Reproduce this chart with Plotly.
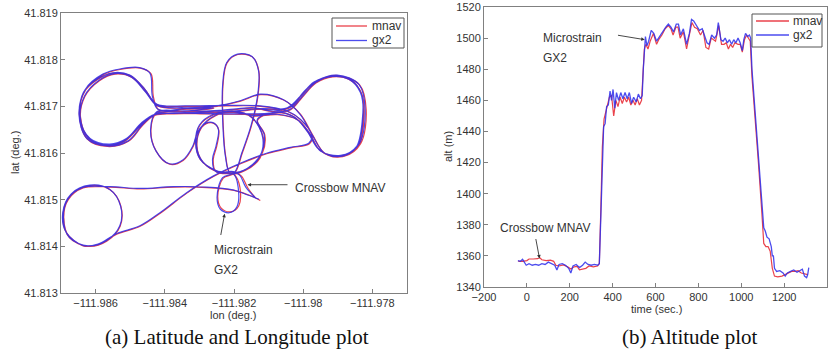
import plotly.graph_objects as go

# ---------------- data: latitude / longitude track ----------------
MNAV_TRACK = [
    # start, into centre
    (-111.98137, 41.81503), (-111.98160, 41.81525), (-111.98179, 41.81551), (-111.98200, 41.81559),
    # centre circle lap 1
    (-111.98244, 41.81559), (-111.98289, 41.81580), (-111.98307, 41.81614), (-111.98294, 41.81654),
    (-111.98253, 41.81680), (-111.98200, 41.81689), (-111.98147, 41.81675), (-111.98115, 41.81632),
    (-111.98125, 41.81589), (-111.98166, 41.81563), (-111.98210, 41.81556),
    # tall loop (north)
    (-111.98224, 41.81593), (-111.98231, 41.81657), (-111.98232, 41.81743), (-111.98220, 41.81793),
    (-111.98189, 41.81811), (-111.98147, 41.81806), (-111.98128, 41.81775), (-111.98131, 41.81721),
    (-111.98150, 41.81657), (-111.98176, 41.81600), (-111.98198, 41.81557),
    # small loop (south)
    (-111.98231, 41.81546), (-111.98247, 41.81507), (-111.98237, 41.81482), (-111.98210, 41.81474),
    (-111.98186, 41.81487), (-111.98183, 41.81527), (-111.98200, 41.81554),
    # centre circle lap 2
    (-111.98249, 41.81561), (-111.98297, 41.81586), (-111.98310, 41.81621), (-111.98299, 41.81659),
    (-111.98258, 41.81682), (-111.98200, 41.81687), (-111.98142, 41.81679),
    # east loop lap 1
    (-111.98074, 41.81682), (-111.98016, 41.81671), (-111.97982, 41.81643), (-111.97949, 41.81604),
    (-111.97890, 41.81594), (-111.97842, 41.81614), (-111.97824, 41.81679), (-111.97832, 41.81729),
    (-111.97866, 41.81757), (-111.97915, 41.81763), (-111.97963, 41.81750), (-111.98002, 41.81720),
    (-111.98036, 41.81693), (-111.98103, 41.81684), (-111.98200, 41.81683), (-111.98297, 41.81684),
    # west loop lap 1
    (-111.98374, 41.81684), (-111.98428, 41.81682), (-111.98466, 41.81664), (-111.98510, 41.81630),
    (-111.98558, 41.81617), (-111.98615, 41.81629), (-111.98643, 41.81671), (-111.98631, 41.81721),
    (-111.98589, 41.81755), (-111.98544, 41.81769), (-111.98495, 41.81762), (-111.98454, 41.81730),
    (-111.98421, 41.81701), (-111.98345, 41.81696), (-111.98249, 41.81700),
    # east loop lap 2
    (-111.98181, 41.81711), (-111.98123, 41.81725), (-111.98055, 41.81713), (-111.98007, 41.81682),
    (-111.97973, 41.81639), (-111.97937, 41.81599), (-111.97881, 41.81593), (-111.97834, 41.81620),
    (-111.97818, 41.81693), (-111.97837, 41.81746), (-111.97900, 41.81766), (-111.97960, 41.81754),
    (-111.97999, 41.81729), (-111.98031, 41.81700), (-111.98084, 41.81689), (-111.98142, 41.81696),
    (-111.98200, 41.81693), (-111.98278, 41.81689),
    # west loop lap 2 (outer)
    (-111.98355, 41.81689), (-111.98423, 41.81684), (-111.98462, 41.81661), (-111.98505, 41.81625),
    (-111.98566, 41.81614), (-111.98624, 41.81630), (-111.98647, 41.81682), (-111.98628, 41.81736),
    (-111.98578, 41.81768), (-111.98529, 41.81779), (-111.98471, 41.81782), (-111.98440, 41.81770),
    (-111.98433, 41.81721), (-111.98418, 41.81693), (-111.98336, 41.81694), (-111.98258, 41.81696),
    # droplet and inner loop
    (-111.98336, 41.81689), (-111.98423, 41.81687), (-111.98440, 41.81650), (-111.98425, 41.81604),
    (-111.98386, 41.81576), (-111.98347, 41.81584), (-111.98318, 41.81614), (-111.98305, 41.81643),
    (-111.98280, 41.81663), (-111.98257, 41.81663), (-111.98244, 41.81649), (-111.98250, 41.81614),
    (-111.98260, 41.81586), (-111.98253, 41.81561), (-111.98210, 41.81556),
    # centre circle lap 3 + east loop lap 3
    (-111.98161, 41.81566), (-111.98118, 41.81600), (-111.98111, 41.81639), (-111.98132, 41.81670),
    (-111.98084, 41.81686), (-111.98026, 41.81677), (-111.97987, 41.81646), (-111.97953, 41.81607),
    (-111.97900, 41.81591), (-111.97847, 41.81609), (-111.97827, 41.81671), (-111.97830, 41.81725),
    (-111.97863, 41.81757), (-111.97915, 41.81764), (-111.97968, 41.81751), (-111.98007, 41.81721),
    (-111.98045, 41.81696), (-111.98123, 41.81694), (-111.98200, 41.81689), (-111.98297, 41.81686),
    (-111.98394, 41.81684),
    # west loop lap 3
    (-111.98433, 41.81680), (-111.98471, 41.81657), (-111.98520, 41.81623), (-111.98568, 41.81616),
    (-111.98621, 41.81632), (-111.98644, 41.81679), (-111.98634, 41.81729), (-111.98595, 41.81757),
    (-111.98549, 41.81771), (-111.98500, 41.81766), (-111.98457, 41.81736), (-111.98423, 41.81704),
    (-111.98336, 41.81700), (-111.98220, 41.81701), (-111.98123, 41.81700), (-111.98045, 41.81689),
    (-111.98007, 41.81671),
    # long leg to the south-west
    (-111.97973, 41.81636), (-111.97982, 41.81620), (-111.98036, 41.81611), (-111.98103, 41.81599),
    (-111.98181, 41.81577), (-111.98258, 41.81550), (-111.98336, 41.81514), (-111.98413, 41.81471),
    (-111.98471, 41.81443), (-111.98539, 41.81426), (-111.98592, 41.81404),
    # south-west circle
    (-111.98636, 41.81401), (-111.98684, 41.81429), (-111.98694, 41.81471), (-111.98670, 41.81511),
    (-111.98616, 41.81530), (-111.98558, 41.81521), (-111.98527, 41.81486), (-111.98529, 41.81443),
    (-111.98568, 41.81411), (-111.98621, 41.81400), (-111.98675, 41.81418), (-111.98692, 41.81461),
    (-111.98679, 41.81500), (-111.98636, 41.81525),
    # return leg
    (-111.98558, 41.81527), (-111.98471, 41.81523), (-111.98374, 41.81527), (-111.98278, 41.81526),
    (-111.98200, 41.81520), (-111.98150, 41.81508), (-111.98124, 41.81498),
]

GX2_TRACK = [
    (-111.98135, 41.81502), (-111.98166, 41.81527), (-111.98183, 41.81552), (-111.98202, 41.81560),
    (-111.98245, 41.81560), (-111.98290, 41.81581), (-111.98308, 41.81615), (-111.98295, 41.81655),
    (-111.98254, 41.81681), (-111.98200, 41.81690), (-111.98148, 41.81676), (-111.98117, 41.81633),
    (-111.98127, 41.81590), (-111.98167, 41.81564), (-111.98211, 41.81557),
    (-111.98225, 41.81594), (-111.98232, 41.81658), (-111.98233, 41.81744), (-111.98221, 41.81794),
    (-111.98190, 41.81812), (-111.98148, 41.81807), (-111.98129, 41.81776), (-111.98132, 41.81722),
    (-111.98151, 41.81658), (-111.98177, 41.81601), (-111.98199, 41.81558),
    (-111.98233, 41.81547), (-111.98249, 41.81505), (-111.98240, 41.81480), (-111.98214, 41.81472),
    (-111.98192, 41.81484), (-111.98188, 41.81527), (-111.98201, 41.81555),
    (-111.98250, 41.81562), (-111.98298, 41.81587), (-111.98311, 41.81622), (-111.98300, 41.81660),
    (-111.98259, 41.81683), (-111.98201, 41.81688), (-111.98143, 41.81680),
    (-111.98075, 41.81683), (-111.98018, 41.81672), (-111.97984, 41.81644), (-111.97951, 41.81605),
    (-111.97892, 41.81595), (-111.97845, 41.81615), (-111.97827, 41.81680), (-111.97835, 41.81730),
    (-111.97868, 41.81758), (-111.97916, 41.81764), (-111.97964, 41.81751), (-111.98003, 41.81721),
    (-111.98037, 41.81694), (-111.98104, 41.81685), (-111.98201, 41.81684), (-111.98298, 41.81685),
    (-111.98375, 41.81685), (-111.98429, 41.81683), (-111.98467, 41.81665), (-111.98511, 41.81631),
    (-111.98559, 41.81619), (-111.98616, 41.81631), (-111.98644, 41.81672), (-111.98632, 41.81722),
    (-111.98590, 41.81756), (-111.98545, 41.81770), (-111.98497, 41.81763), (-111.98456, 41.81731),
    (-111.98423, 41.81702), (-111.98346, 41.81697), (-111.98250, 41.81701),
    (-111.98182, 41.81712), (-111.98124, 41.81726), (-111.98057, 41.81714), (-111.98009, 41.81683),
    (-111.97975, 41.81640), (-111.97939, 41.81600), (-111.97883, 41.81594), (-111.97837, 41.81621),
    (-111.97821, 41.81694), (-111.97839, 41.81747), (-111.97901, 41.81767), (-111.97961, 41.81755),
    (-111.98000, 41.81730), (-111.98032, 41.81701), (-111.98085, 41.81690), (-111.98143, 41.81697),
    (-111.98201, 41.81694), (-111.98279, 41.81690),
    (-111.98356, 41.81690), (-111.98424, 41.81685), (-111.98463, 41.81662), (-111.98506, 41.81626),
    (-111.98567, 41.81615), (-111.98625, 41.81631), (-111.98648, 41.81683), (-111.98629, 41.81737),
    (-111.98579, 41.81769), (-111.98530, 41.81780), (-111.98473, 41.81783), (-111.98443, 41.81771),
    (-111.98436, 41.81722), (-111.98420, 41.81694), (-111.98337, 41.81695), (-111.98259, 41.81697),
    (-111.98337, 41.81690), (-111.98424, 41.81688), (-111.98441, 41.81651), (-111.98426, 41.81605),
    (-111.98387, 41.81577), (-111.98348, 41.81585), (-111.98319, 41.81615), (-111.98306, 41.81644),
    (-111.98281, 41.81664), (-111.98258, 41.81664), (-111.98245, 41.81650), (-111.98252, 41.81615),
    (-111.98262, 41.81587), (-111.98255, 41.81562), (-111.98211, 41.81557),
    (-111.98162, 41.81567), (-111.98120, 41.81601), (-111.98113, 41.81640), (-111.98133, 41.81671),
    (-111.98085, 41.81687), (-111.98028, 41.81678), (-111.97989, 41.81647), (-111.97955, 41.81608),
    (-111.97902, 41.81592), (-111.97849, 41.81610), (-111.97829, 41.81672), (-111.97832, 41.81726),
    (-111.97864, 41.81758), (-111.97916, 41.81765), (-111.97969, 41.81752), (-111.98008, 41.81722),
    (-111.98046, 41.81697), (-111.98124, 41.81695), (-111.98201, 41.81690), (-111.98298, 41.81687),
    (-111.98395, 41.81685),
    (-111.98434, 41.81681), (-111.98472, 41.81658), (-111.98521, 41.81624), (-111.98569, 41.81617),
    (-111.98622, 41.81633), (-111.98645, 41.81680), (-111.98635, 41.81730), (-111.98596, 41.81758),
    (-111.98550, 41.81772), (-111.98501, 41.81767), (-111.98458, 41.81737), (-111.98424, 41.81705),
    (-111.98337, 41.81701), (-111.98221, 41.81702), (-111.98124, 41.81701), (-111.98046, 41.81690),
    (-111.98008, 41.81672),
    (-111.97975, 41.81637), (-111.97984, 41.81621), (-111.98037, 41.81612), (-111.98104, 41.81600),
    (-111.98182, 41.81578), (-111.98259, 41.81551), (-111.98337, 41.81515), (-111.98414, 41.81472),
    (-111.98472, 41.81444), (-111.98540, 41.81427), (-111.98593, 41.81405),
    (-111.98637, 41.81402), (-111.98685, 41.81430), (-111.98695, 41.81472), (-111.98671, 41.81512),
    (-111.98617, 41.81531), (-111.98559, 41.81522), (-111.98528, 41.81487), (-111.98530, 41.81444),
    (-111.98569, 41.81412), (-111.98622, 41.81401), (-111.98676, 41.81419), (-111.98693, 41.81462),
    (-111.98680, 41.81501), (-111.98637, 41.81526),
    (-111.98559, 41.81528), (-111.98472, 41.81524), (-111.98375, 41.81528), (-111.98279, 41.81527),
    (-111.98203, 41.81521), (-111.98160, 41.81510), (-111.98128, 41.81501),
]

# ---------------- data: altitude vs time ----------------
MNAV_T = [-40, -20, 0, 10, 30, 50, 60, 70, 90, 110, 125, 135, 150, 170, 190, 205, 220, 235,
          245, 260, 275, 290, 310, 330, 338, 345, 352, 360, 372, 385, 395, 405, 415, 425,
          435, 445, 455, 465, 475, 485, 495, 505, 515, 525, 535, 540, 548, 555, 565, 575,
          590, 605, 615, 630, 645, 660, 672, 682, 695, 705, 715, 730, 745, 758, 770, 782,
          795, 810, 822, 835, 848, 860, 870, 880, 895, 908, 920, 930, 940, 950, 960, 970,
          985, 995, 1005, 1015, 1025, 1035, 1042, 1050, 1065, 1080, 1095, 1105, 1115, 1125,
          1135, 1145, 1155, 1170, 1190, 1205, 1220, 1235, 1250, 1265, 1280, 1295, 1310]
MNAV_ALT = [1356.5, 1356.5, 1357.0, 1358.0, 1358.0, 1358.2, 1358.8, 1357.5, 1357.0, 1357.3,
            1356.5, 1354.0, 1353.5, 1354.2, 1353.0, 1351.5, 1353.0, 1353.2, 1351.0, 1351.5,
            1352.0, 1353.5, 1353.0, 1353.5, 1355, 1390, 1430, 1448, 1455, 1462, 1463, 1450,
            1460, 1456, 1462, 1458, 1462, 1459, 1462, 1457, 1460, 1457, 1461, 1457, 1460,
            1475, 1493, 1496, 1493, 1498, 1503, 1496, 1499, 1502, 1506, 1508, 1506, 1502,
            1507, 1507, 1500, 1504, 1493, 1502, 1510, 1507, 1506, 1502, 1505, 1494, 1493,
            1500, 1499, 1498, 1508, 1496, 1496, 1497, 1493, 1496, 1494, 1497, 1496, 1496,
            1491, 1499, 1502, 1500, 1498, 1475, 1450, 1420, 1390, 1368, 1366, 1366, 1363,
            1352, 1347, 1346.5, 1347, 1348, 1349, 1350, 1350, 1350.5, 1349, 1348.5, 1348]

GX2_T = [-42, -30, -20, -10, -3, 10, 25, 40, 55, 70, 85, 100, 115, 130, 140, 150, 165, 180,
         195, 205, 215, 230, 245, 260, 272, 285, 300, 315, 330, 338, 345, 352, 358, 365, 372,
         380, 388, 395, 402, 410, 418, 428, 438, 448, 458, 468, 478, 488, 498, 510, 520, 530,
         538, 543, 548, 553, 560, 568, 580, 592, 605, 618, 632, 648, 660, 672, 684, 697, 707,
         717, 730, 745, 758, 768, 778, 790, 805, 818, 832, 840, 850, 862, 875, 885, 893, 905,
         915, 925, 935, 945, 955, 965, 975, 985, 995, 1005, 1012, 1020, 1030, 1038, 1044,
         1050, 1065, 1080, 1095, 1105, 1112, 1120, 1130, 1140, 1145, 1150, 1155, 1165, 1180,
         1195, 1205, 1215, 1230, 1245, 1260, 1275, 1285, 1295, 1305, 1310, 1315]
GX2_ALT = [1357, 1356.5, 1357.8, 1355.5, 1354, 1355, 1354, 1354.5, 1354, 1355, 1354.5, 1356,
           1355, 1354, 1351, 1354.5, 1355, 1354, 1352, 1349, 1353.5, 1354.5, 1352.5, 1354,
           1356, 1354.5, 1354, 1354.5, 1354, 1355, 1385, 1425, 1443, 1445, 1456, 1457, 1466,
           1460, 1467, 1455, 1465, 1460, 1465, 1461, 1465, 1461, 1465, 1458, 1462, 1459, 1464,
           1461, 1463, 1480, 1496, 1501, 1495, 1498, 1505, 1503, 1498, 1501, 1504, 1507, 1509,
           1507, 1504, 1509, 1509, 1502, 1506, 1496, 1503, 1512, 1511, 1508, 1505, 1506, 1501,
           1497, 1496, 1502, 1500, 1502, 1510, 1499, 1498, 1500, 1497, 1499, 1496, 1499, 1497,
           1500, 1497, 1492, 1499, 1503, 1501, 1502, 1500, 1480, 1452, 1422, 1393, 1378, 1376,
           1372, 1371, 1366, 1360, 1360, 1352, 1350, 1350.5, 1349, 1347, 1349, 1350, 1351,
           1349.5, 1351, 1351.5, 1347, 1346, 1348, 1352.5]

LON_TICKS = [-111.986, -111.984, -111.982, -111.980, -111.978]
LON_TICK_TEXT = ["\u2212111.986", "\u2212111.984", "\u2212111.982", "\u2212111.98", "\u2212111.978"]
SERIES_NAMES = ["mnav", "gx2"]

# ---------------- figure ----------------
W, H = 839, 353
RED = "rgba(232,45,55,0.9)"
BLUE = "rgba(45,45,235,0.85)"
SANS = "Liberation Sans, Arial, sans-serif"
SERIF = "Liberation Serif, Times New Roman, serif"
AX = "#808080"


def px(x):
    return x / W


def py(y):
    return 1 - y / H


fig = go.Figure()
fig.add_trace(go.Scatter(x=[p[0] for p in MNAV_TRACK], y=[p[1] for p in MNAV_TRACK], mode="lines",
                         name=SERIES_NAMES[0], line=dict(color=RED, width=1.2, shape="spline", smoothing=1.0),
                         xaxis="x", yaxis="y"))
fig.add_trace(go.Scatter(x=[p[0] for p in GX2_TRACK], y=[p[1] for p in GX2_TRACK], mode="lines",
                         name=SERIES_NAMES[1], line=dict(color=BLUE, width=1.2, shape="spline", smoothing=1.0),
                         xaxis="x", yaxis="y"))
fig.add_trace(go.Scatter(x=MNAV_T, y=MNAV_ALT, mode="lines", name=SERIES_NAMES[0],
                         line=dict(color=RED, width=1.2), xaxis="x2", yaxis="y2"))
fig.add_trace(go.Scatter(x=GX2_T, y=GX2_ALT, mode="lines", name=SERIES_NAMES[1],
                         line=dict(color=BLUE, width=1.3), xaxis="x2", yaxis="y2"))

axis_common = dict(showline=True, mirror=True, linecolor=AX, linewidth=1, ticks="inside",
                   ticklen=4, tickcolor=AX, showgrid=False, zeroline=False, automargin=False,
                   tickfont=dict(family=SANS, size=11, color="#333"))

fig.update_layout(
    width=W, height=H, margin=dict(l=0, r=0, t=0, b=0, autoexpand=False),
    paper_bgcolor="white", plot_bgcolor="white", showlegend=False,
    xaxis=dict(domain=[px(61), px(407)], anchor="y", range=[-111.987, -111.977],
               tickvals=LON_TICKS, ticktext=LON_TICK_TEXT, **axis_common),
    yaxis=dict(domain=[py(293), py(13)], anchor="x", range=[41.813, 41.819], dtick=0.001,
               tick0=41.813, tickformat=".3f", **axis_common),
    xaxis2=dict(domain=[px(484), px(827)], anchor="y2", range=[-200, 1400], dtick=200,
                **axis_common),
    yaxis2=dict(domain=[py(287), py(7)], anchor="x2", range=[1340, 1520], dtick=20,
                **axis_common),
)

ann = []
shapes = []


def text(s, x, y, size=11, family=SANS, color="#333", xanchor="center", angle=0):
    ann.append(dict(text=s, x=px(x), y=py(y), xref="paper", yref="paper", showarrow=False,
                    xanchor=xanchor, yanchor="middle", textangle=angle,
                    font=dict(family=family, size=size, color=color)))


text("lon (deg.)", 233, 315)
text("lat (deg.)", 15, 153, angle=-90)
text("time (sec.)", 656, 309)
text("alt (m)", 448, 147, angle=-90)
text("(a) Latitude and Longitude plot", 237, 337, size=21, family=SERIF, color="#111")
text("(b) Altitude plot", 689, 337, size=21, family=SERIF, color="#111")
text("Crossbow MNAV", 293, 188, size=12, xanchor="left")
text("Microstrain", 212, 250, size=12, xanchor="left")
text("GX2", 212, 270, size=12, xanchor="left")
text("Microstrain", 541, 38, size=12, xanchor="left")
text("GX2", 541, 58, size=12, xanchor="left")
text("Crossbow MNAV", 498, 228, size=12, xanchor="left")


def arrow(x, y, ax, ay, xr, yr):
    ann.append(dict(x=x, y=y, ax=ax, ay=ay, xref=xr, yref=yr, axref=xr, ayref=yr, text="",
                    showarrow=True, arrowhead=2, arrowsize=0.8, arrowwidth=0.9,
                    arrowcolor="#333"))


arrow(-111.98161, 41.81532, -111.98041, 41.81532, "x", "y")
arrow(-111.98227, 41.81470, -111.98239, 41.81421, "x", "y")
arrow(59, 1358.3, 40.5, 1371.8, "x2", "y2")
arrow(550, 1499, 418, 1502, "x2", "y2")


# legend boxes (drawn in paper space)
def legend_box(x0, y0, x1, y1, rows, line_x0, line_x1, text_x):
    shapes.append(dict(type="rect", xref="paper", yref="paper", x0=px(x0), x1=px(x1),
                       y0=py(y1), y1=py(y0), line=dict(color="#555", width=1),
                       fillcolor="white", layer="above"))
    for (name, color, yy) in rows:
        shapes.append(dict(type="line", xref="paper", yref="paper", x0=px(line_x0), x1=px(line_x1),
                           y0=py(yy), y1=py(yy), line=dict(color=color, width=1.3), layer="above"))
        text(name, text_x, yy, size=12, xanchor="left")


legend_box(332, 18, 404, 48, [(SERIES_NAMES[0], RED, 26), (SERIES_NAMES[1], BLUE, 40.5)], 336, 367, 370)
legend_box(752, 14, 822, 47, [(SERIES_NAMES[0], RED, 21), (SERIES_NAMES[1], BLUE, 35)], 756, 789, 791)

fig.update_layout(annotations=ann, shapes=shapes)
# the page body has a default 8 px margin; remove it so the figure sits at the window origin
fig.write_html("out.html", config={"displayModeBar": False},
               post_script="document.body.style.margin='0px';")
